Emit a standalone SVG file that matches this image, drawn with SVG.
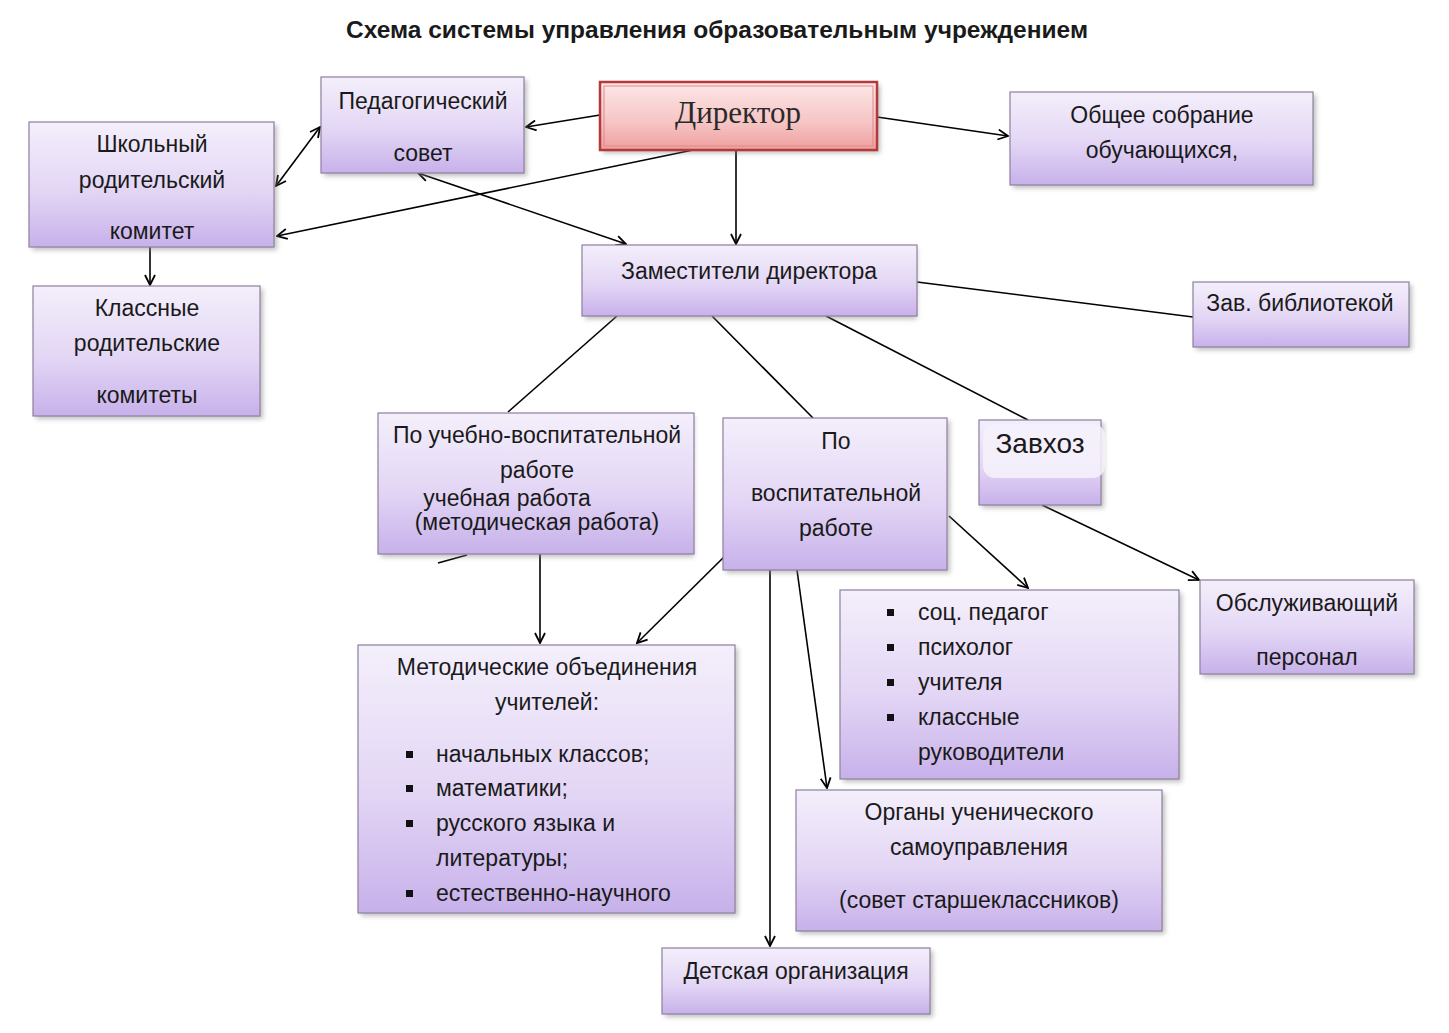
<svg xmlns="http://www.w3.org/2000/svg" width="1449" height="1033" viewBox="0 0 1449 1033">
<defs>
<linearGradient id="gp" x1="0" y1="0" x2="0" y2="1">
<stop offset="0" stop-color="#f4effb"/>
<stop offset="0.55" stop-color="#e3d6f5"/>
<stop offset="1" stop-color="#c7b1ea"/>
</linearGradient>
<linearGradient id="gr" x1="0" y1="0" x2="0" y2="1">
<stop offset="0" stop-color="#fde8e8"/>
<stop offset="0.6" stop-color="#f6c4c4"/>
<stop offset="1" stop-color="#ef9e9e"/>
</linearGradient>
<filter id="sh" x="-10%" y="-10%" width="130%" height="140%">
<feGaussianBlur stdDeviation="2.5"/>
</filter>
<marker id="ah" viewBox="0 0 12 12" refX="11" refY="6" markerWidth="12" markerHeight="12" markerUnits="userSpaceOnUse" orient="auto-start-reverse">
<path d="M1,1 L11,6 L1,11" fill="none" stroke="#000" stroke-width="1.8"/>
</marker>
</defs>
<style>
.box{fill:url(#gp);stroke:#8e809e;stroke-width:1.2}
.shd{fill:#8a8a8a;opacity:0.55;filter:url(#sh)}
.t{font-family:"Liberation Sans",Arial,sans-serif;font-size:23px;fill:#1a1a1a;text-anchor:middle}
.tl{font-family:"Liberation Sans",Arial,sans-serif;font-size:23px;fill:#1a1a1a}
.c{stroke:#000;stroke-width:1.6;fill:none}
.a{marker-end:url(#ah)}
.ab{marker-start:url(#ah);marker-end:url(#ah)}
.b{fill:#111}
</style>
<rect width="1449" height="1033" fill="#fff"/>
<text x="717" y="38" font-family="Liberation Sans,Arial,sans-serif" font-size="24.5" font-weight="bold" text-anchor="middle" fill="#1a1a1a">Схема системы управления образовательным учреждением</text>

<g id="connectors">
<line class="c a" x1="600" y1="115" x2="526" y2="127"/>
<line class="c a" x1="877" y1="117" x2="1008" y2="136"/>
<line class="c a" x1="693" y1="150" x2="277" y2="236"/>
<line class="c a" x1="736" y1="150" x2="736" y2="244"/>
<line class="c ab" x1="320" y1="127" x2="276" y2="186"/>
<line class="c ab" x1="418" y1="173" x2="626" y2="244"/>
<line class="c a" x1="150" y1="247" x2="150" y2="285"/>
<line class="c" x1="917" y1="282" x2="1193" y2="317"/>
<line class="c" x1="617" y1="316" x2="508" y2="412"/>
<line class="c" x1="712" y1="316" x2="813" y2="418"/>
<line class="c" x1="826" y1="316" x2="1028" y2="420"/>
<line class="c a" x1="1042" y1="505" x2="1199" y2="580"/>
<line class="c a" x1="949" y1="516" x2="1028" y2="588"/>
<line class="c a" x1="727" y1="554" x2="637" y2="643"/>
<line class="c a" x1="540" y1="554" x2="540" y2="643"/>
<line class="c a" x1="770" y1="570" x2="770" y2="946"/>
<line class="c a" x1="797" y1="570" x2="827" y2="788"/>
<line class="c" x1="438" y1="563" x2="467" y2="555"/>
</g>

<g id="director">
<rect x="603" y="85" width="277" height="68" fill="#777" opacity="0.5" filter="url(#sh)"/>
<rect x="600" y="82" width="277" height="68" fill="url(#gr)" stroke="#b5393b" stroke-width="2.5"/>
<rect x="604" y="86" width="269" height="60" fill="none" stroke="#d98a8a" stroke-width="1"/>
<text x="738" y="123" font-family="Liberation Serif,Times New Roman,serif" font-size="31" text-anchor="middle" fill="#2a2a2a">Директор</text>
</g>

<g id="ped-sovet">
<rect class="shd" x="324" y="80" width="203" height="96"/>
<rect class="box" x="321" y="77" width="203" height="96"/>
<text class="t" x="423" y="109">Педагогический</text>
<text class="t" x="423" y="161">совет</text>
</g>

<g id="shkolny-komitet">
<rect class="shd" x="32" y="125" width="245" height="125"/>
<rect class="box" x="29" y="122" width="245" height="125"/>
<text class="t" x="152" y="152">Школьный</text>
<text class="t" x="152" y="188">родительский</text>
<text class="t" x="152" y="239">комитет</text>
</g>

<g id="klassnye-komitety">
<rect class="shd" x="36" y="289" width="227" height="130"/>
<rect class="box" x="33" y="286" width="227" height="130"/>
<text class="t" x="147" y="316">Классные</text>
<text class="t" x="147" y="351">родительские</text>
<text class="t" x="147" y="403">комитеты</text>
</g>

<g id="obshchee-sobranie">
<rect class="shd" x="1013" y="95" width="303" height="93"/>
<rect class="box" x="1010" y="92" width="303" height="93"/>
<text class="t" x="1162" y="123">Общее собрание</text>
<text class="t" x="1162" y="158">обучающихся,</text>
</g>

<g id="zamestiteli">
<rect class="shd" x="585" y="248" width="332" height="71"/>
<rect class="box" x="582" y="245" width="335" height="71"/>
<text class="t" x="749" y="279">Заместители директора</text>
</g>

<g id="zav-bibl">
<rect class="shd" x="1196" y="285" width="216" height="65"/>
<rect class="box" x="1193" y="282" width="216" height="65"/>
<text class="t" x="1300" y="311">Зав. библиотекой</text>
</g>

<g id="uchebno-vosp">
<rect class="shd" x="381" y="416" width="313" height="141"/>
<rect class="box" x="378" y="413" width="316" height="141"/>
<text class="t" x="537" y="443">По учебно-воспитательной</text>
<text class="t" x="537" y="478">работе</text>
<text class="t" x="507" y="506">учебная работа</text>
<text class="t" x="537" y="530">(методическая работа)</text>
</g>

<g id="vospitatelnoy">
<rect class="shd" x="726" y="421" width="224" height="152"/>
<rect class="box" x="723" y="418" width="224" height="152"/>
<text class="t" x="836" y="449">По</text>
<text class="t" x="836" y="501">воспитательной</text>
<text class="t" x="836" y="536">работе</text>
</g>

<g id="zavhoz">
<rect class="shd" x="982" y="423" width="122" height="85"/>
<rect class="box" x="979" y="420" width="122" height="85"/>
<rect x="983" y="424" width="122" height="54" rx="12" fill="#f6f2fb" opacity="0.85"/>
<text class="t" x="1040" y="453" style="font-size:28px">Завхоз</text>
</g>

<g id="obsluzh">
<rect class="shd" x="1203" y="583" width="214" height="94"/>
<rect class="box" x="1200" y="580" width="214" height="94"/>
<text class="t" x="1307" y="611">Обслуживающий</text>
<text class="t" x="1307" y="665">персонал</text>
</g>

<g id="soc-ped">
<rect class="shd" x="843" y="593" width="339" height="189"/>
<rect class="box" x="840" y="590" width="339" height="189"/>
<rect class="b" x="887" y="609" width="7" height="7"/>
<rect class="b" x="887" y="644" width="7" height="7"/>
<rect class="b" x="887" y="679" width="7" height="7"/>
<rect class="b" x="887" y="714" width="7" height="7"/>
<text class="tl" x="918" y="620">соц. педагог</text>
<text class="tl" x="918" y="655">психолог</text>
<text class="tl" x="918" y="690">учителя</text>
<text class="tl" x="918" y="725">классные</text>
<text class="tl" x="918" y="760">руководители</text>
</g>

<g id="metod">
<rect class="shd" x="361" y="648" width="377" height="268"/>
<rect class="box" x="358" y="645" width="377" height="268"/>
<text class="t" x="547" y="675">Методические объединения</text>
<text class="t" x="547" y="710">учителей:</text>
<rect class="b" x="406" y="751" width="7" height="7"/>
<rect class="b" x="406" y="785" width="7" height="7"/>
<rect class="b" x="406" y="820" width="7" height="7"/>
<rect class="b" x="406" y="890" width="7" height="7"/>
<text class="tl" x="436" y="762">начальных классов;</text>
<text class="tl" x="436" y="796">математики;</text>
<text class="tl" x="436" y="831">русского языка и</text>
<text class="tl" x="436" y="866">литературы;</text>
<text class="tl" x="436" y="901">естественно-научного</text>
</g>

<g id="organy">
<rect class="shd" x="799" y="793" width="366" height="141"/>
<rect class="box" x="796" y="790" width="366" height="141"/>
<text class="t" x="979" y="820">Органы ученического</text>
<text class="t" x="979" y="855">самоуправления</text>
<text class="t" x="979" y="908">(совет старшеклассников)</text>
</g>

<g id="detskaya">
<rect class="shd" x="665" y="951" width="268" height="66"/>
<rect class="box" x="662" y="948" width="268" height="66"/>
<text class="t" x="796" y="979">Детская организация</text>
</g>
</svg>
